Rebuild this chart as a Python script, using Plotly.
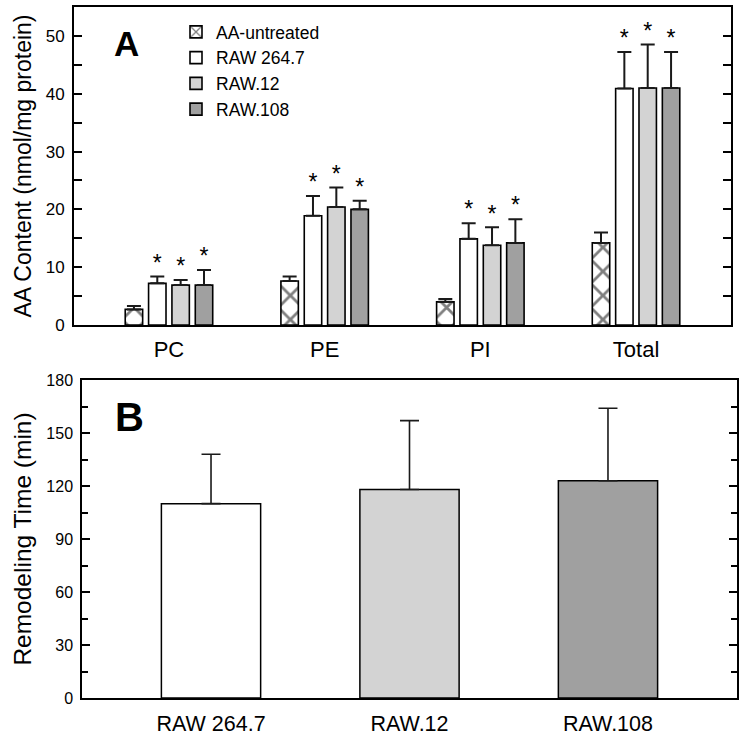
import plotly.graph_objects as go

# --- Panel A data: AA content per phospholipid class ---
classes = ["PC", "PE", "PI", "Total"]
series_names = ["AA-untreated", "RAW 264.7", "RAW.12", "RAW.108"]
aa_untreated = [2.7, 7.6, 4.0, 14.2]
aa_untreated_err = [0.6, 0.8, 0.5, 1.8]
raw264 = [7.2, 18.9, 14.9, 40.9]
raw264_err = [1.2, 3.4, 2.7, 6.3]
raw12 = [6.9, 20.4, 13.8, 41.0]
raw12_err = [0.9, 3.4, 3.1, 7.5]
raw108 = [6.9, 20.0, 14.2, 41.0]
raw108_err = [2.6, 1.5, 4.1, 6.2]
significant = [False, True, True, True]   # star above the treated cells

# --- Panel B data: remodeling time ---
cell_lines = ["RAW 264.7", "RAW.12", "RAW.108"]
remodel_time = [110, 118, 123]
remodel_err = [28, 39, 41]

FONT = "Arial, Liberation Sans, sans-serif"
fills = ["white", "white", "#d3d3d3", "#a0a0a0"]
W, H = 744, 737

fig = go.Figure()

# --- Panel A bars (manual grouping so stars line up with bars) ---
slot, bar_w = 0.15, 0.112
values = [aa_untreated, raw264, raw12, raw108]
errors = [aa_untreated_err, raw264_err, raw12_err, raw108_err]
for i, (name, vals, errs) in enumerate(zip(series_names, values, errors)):
    xs = [k + (i - 1.5) * slot for k in range(len(classes))]
    pattern = dict(shape="x", size=17, solidity=0.3, fgcolor="black", bgcolor="white") if i == 0 else None
    fig.add_trace(go.Bar(
        x=xs, y=vals, width=bar_w, name=name,
        marker=dict(color=fills[i], line=dict(color="black", width=1.6), pattern=pattern),
        error_y=dict(type="data", array=errs, arrayminus=[0] * len(errs), symmetric=False,
                     color="#1a1a1a", thickness=2, width=7),
        xaxis="x", yaxis="y",
    ))
    if significant[i]:
        fig.add_trace(go.Scatter(
            x=xs, y=[v + e for v, e in zip(vals, errs)], mode="text", text=["*"] * len(vals),
            textposition="top center", textfont=dict(family=FONT, size=23, color="black"),
            showlegend=False, hoverinfo="skip", xaxis="x", yaxis="y",
        ))

# --- Panel B bars ---
fig.add_trace(go.Bar(
    x=list(range(len(cell_lines))), y=remodel_time, width=0.5,
    marker=dict(color=fills[1:], line=dict(color="black", width=1.5)),
    error_y=dict(type="data", array=remodel_err, arrayminus=[0] * 3, symmetric=False,
                 color="#1a1a1a", thickness=1.6, width=9.5),
    showlegend=False, xaxis="x2", yaxis="y2",
))

def px_x(p):
    return min(1.0, max(0.0, p / W))

def px_y(p):
    return min(1.0, max(0.0, 1 - p / H))

yaxis_common = dict(
    showline=True, linecolor="black", mirror="ticks", ticks="inside", ticklen=8,
    tickwidth=1.5, tickcolor="black", showgrid=False, zeroline=False,
    ticklabelstandoff=4, automargin=False,
)
xaxis_common = dict(
    showline=True, linecolor="black", mirror=True, ticks="", showgrid=False,
    zeroline=False, automargin=False,
)

fig.update_layout(
    width=W, height=H, margin=dict(l=0, r=0, t=0, b=0, autoexpand=False),
    paper_bgcolor="white", plot_bgcolor="white",
    font=dict(family=FONT, color="black"),
    barmode="overlay",
    xaxis=dict(domain=[px_x(74), px_x(731)], range=[-0.61, 3.61],
               tickmode="array", tickvals=list(range(len(classes))), ticktext=classes,
               linewidth=1.8, tickfont=dict(size=22), ticklabelstandoff=4, anchor="y",
               **xaxis_common),
    yaxis=dict(domain=[px_y(325), px_y(7)], range=[0, 55], dtick=10, linewidth=1.8,
               minor=dict(dtick=5, ticks="inside", ticklen=8, tickcolor="black", tickwidth=1.5),
               tickfont=dict(size=17),
               title=dict(text="AA Content (nmol/mg protein)", font=dict(size=23), standoff=8),
               anchor="x", **yaxis_common),
    xaxis2=dict(domain=[px_x(82), px_x(737)], range=[-0.65, 2.65],
                tickmode="array", tickvals=list(range(len(cell_lines))), ticktext=cell_lines,
                linewidth=1.5, tickfont=dict(size=21.5), ticklabelstandoff=5, anchor="y2",
                **xaxis_common),
    yaxis2=dict(domain=[px_y(698), px_y(380)], range=[0, 180], dtick=30, linewidth=1.5,
                minor=dict(dtick=15, ticks="inside", ticklen=6, tickcolor="black", tickwidth=1.5),
                tickfont=dict(size=16),
                title=dict(text="Remodeling Time (min)", font=dict(size=24.5), standoff=8),
                anchor="x2", **yaxis_common),
    legend=dict(x=px_x(176), y=px_y(14), xanchor="left", yanchor="top",
                bgcolor="rgba(0,0,0,0)", font=dict(size=17.5), tracegroupgap=0),
    showlegend=True,
    annotations=[
        dict(text="<b>A</b>", x=(112 - 74) / 657, y=(325 - 44) / 318, xref="x domain", yref="y domain",
             xanchor="left", yanchor="middle", showarrow=False, font=dict(size=35, color="black")),
        dict(text="<b>B</b>", x=(113 - 82) / 655, y=(698 - 417) / 318, xref="x2 domain", yref="y2 domain",
             xanchor="left", yanchor="middle", showarrow=False, font=dict(size=40, color="black")),
    ],
)

# drop the browser's default 8px body margin so the figure fills the window exactly
fig.write_html("out.html", config={"displayModeBar": False},
               post_script="document.body.style.margin = '0';")
